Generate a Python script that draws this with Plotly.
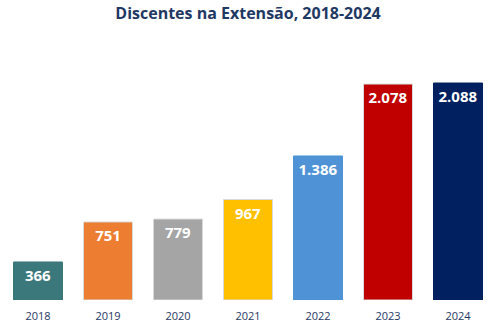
import plotly.graph_objects as go

years = ["2018", "2019", "2020", "2021", "2022", "2023", "2024"]
students = [366, 751, 779, 967, 1386, 2078, 2088]
colors = ["#3B787B", "#ED7D31", "#A5A5A5", "#FFC000", "#4F93D6", "#C00000", "#002060"]
line_colors = ["#3B787B", "#D9D9D9", "#D9D9D9", "#D9D9D9", "#4F93D6", "#D9D9D9", "#002060"]

labels = [f"{v:,}".replace(",", ".") for v in students]

fig = go.Figure()
fig.add_trace(go.Bar(
    x=years, y=students,
    marker=dict(color=colors, line=dict(color=line_colors, width=1)),
    text=labels,
    textposition="inside",
    insidetextanchor="end",
    textangle=0,
    textfont=dict(family="Open Sans", size=15, color="white", weight="bold"),
    cliponaxis=False,
))

fig.update_layout(
    width=496, height=330,
    margin=dict(l=3, r=3, t=40, b=30),
    paper_bgcolor="white", plot_bgcolor="white",
    bargap=0.3,
    showlegend=False,
    title=dict(text="<b>Discentes na Extensão, 2018-2024</b>", x=0.5, xanchor="center",
               y=0.96, yanchor="middle",
               font=dict(family="Open Sans", size=16, color="#1F3864")),
    xaxis=dict(showgrid=False, showline=False, ticks="", ticklabelstandoff=8,
               tickfont=dict(family="Open Sans", size=11, color="#1F3864")),
    yaxis=dict(range=[0, 2502], visible=False, showgrid=False),
    uniformtext=dict(minsize=8, mode="show"),
)

fig.write_html("out.html")
